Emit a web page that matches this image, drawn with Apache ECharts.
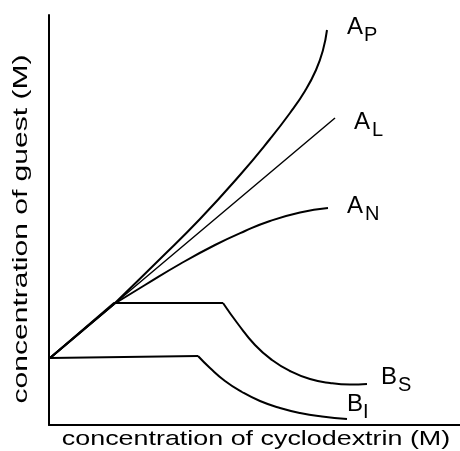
<!DOCTYPE html>
<html>
<head>
<meta charset="utf-8">
<script src="https://cdn.jsdelivr.net/npm/echarts@6/dist/echarts.min.js"></script>
<style>
  html, body { margin: 0; padding: 0; background: #fff; }
  #chart { width: 460px; height: 451px; }
</style>
</head>
<body>
<div id="chart"></div>
<script>
// Phase-solubility diagram: guest concentration vs cyclodextrin concentration
const xTitle = 'concentration of cyclodextrin (M)';
const yTitle = 'concentration of guest (M)';

// [cyclodextrin, guest] pairs for each solubility profile
const curveAP = [[0.1, 6.7], [6.5, 12.1], [11.1, 16.6], [15.1, 20.6], [19.1, 25.0], [22.1, 28.6],
                 [24.1, 31.2], [25.6, 33.4], [26.7, 35.5], [27.4, 37.5], [27.8, 39.5]];
const curveAL = [[0.1, 6.7], [28.6, 30.7]];
const curveAN = [[0.1, 6.7], [6.5, 12.1], [9.6, 14.0], [13.1, 16.1], [16.6, 18.0], [19.6, 19.4],
                 [22.1, 20.4], [25.1, 21.25], [27.9, 21.7]];
const curveBS = [[0.1, 6.7], [6.5, 12.2], [17.4, 12.2], [18.9, 10.1], [20.6, 8.0], [22.3, 6.5],
                 [24.1, 5.4], [26.1, 4.6], [28.1, 4.2], [30.1, 4.05], [31.8, 4.1]];
const curveBI = [[0.1, 6.7], [14.9, 6.9], [16.1, 5.7], [17.6, 4.4], [19.3, 3.3], [21.1, 2.4],
                 [23.1, 1.7], [25.1, 1.2], [27.3, 0.85], [29.8, 0.6]];

// profile names: main letter + subscript
const profileNames = [['A', 'P'], ['A', 'L'], ['A', 'N'], ['B', 'S'], ['B', 'I']];

const FONT = '"Liberation Sans", Arial, Helvetica, sans-serif';

// each profile is straight up to `bend`, then a smooth curve
function profileSeries(name, pts, bend, width) {
  const base = {
    type: 'line', symbol: 'none', silent: true, animation: false,
    lineStyle: { color: '#000', width: width }
  };
  if (bend == null) {
    return [Object.assign({ name: name, data: pts, smooth: false }, base)];
  }
  return [
    Object.assign({ name: name + '-lin', data: pts.slice(0, bend + 1), smooth: false }, base),
    Object.assign({ name: name, data: pts.slice(bend), smooth: 0.5 }, base)
  ];
}

const series = [].concat(
  profileSeries('AP', curveAP, 1, 2),
  profileSeries('AL', curveAL, null, 1.5),
  profileSeries('AN', curveAN, 1, 2),
  profileSeries('BS', curveBS, 2, 2),
  profileSeries('BI', curveBI, 1, 2)
);

// label anchors: [main x, main y, sub x, sub y]
const labelSpots = [
  [347, 27, 364, 35],
  [354, 122, 372, 130],
  [347, 206, 365, 214],
  [381, 377, 398, 385],
  [347, 404, 363, 412]
];

const graphics = [];
profileNames.forEach((nm, i) => {
  const p = labelSpots[i];
  graphics.push({
    type: 'text', x: p[0], y: p[1], silent: true,
    style: { text: nm[0], fontFamily: FONT, fontSize: 24, fill: '#000', align: 'left', verticalAlign: 'middle' }
  });
  graphics.push({
    type: 'text', x: p[2], y: p[3], silent: true,
    style: { text: nm[1], fontFamily: FONT, fontSize: 20, fill: '#000', align: 'left', verticalAlign: 'middle' }
  });
});

// axis titles
graphics.push({
  type: 'text', x: 256, y: 439, scaleX: 1.28, silent: true,
  style: { text: xTitle, fontFamily: FONT, fontSize: 21, fill: '#000', align: 'center', verticalAlign: 'middle' }
});
graphics.push({
  type: 'text', x: 21, y: 229, rotation: Math.PI / 2, scaleX: 1.43, silent: true,
  style: { text: yTitle, fontFamily: FONT, fontSize: 21, fill: '#000', align: 'center', verticalAlign: 'middle' }
});

const chart = echarts.init(document.getElementById('chart'), null, { renderer: 'canvas' });
chart.setOption({
  animation: false,
  backgroundColor: '#fff',
  grid: { left: 49, right: 0, top: 15, bottom: 26 },
  xAxis: {
    type: 'value', min: 0, max: 41.1,
    axisLine: { show: true, onZero: false, lineStyle: { color: '#000', width: 2 } },
    axisTick: { show: false }, axisLabel: { show: false }, splitLine: { show: false }
  },
  yAxis: {
    type: 'value', min: 0, max: 41,
    axisLine: { show: true, onZero: false, lineStyle: { color: '#000', width: 2 } },
    axisTick: { show: false }, axisLabel: { show: false }, splitLine: { show: false }
  },
  series: series,
  graphic: graphics
});
</script>
</body>
</html>
